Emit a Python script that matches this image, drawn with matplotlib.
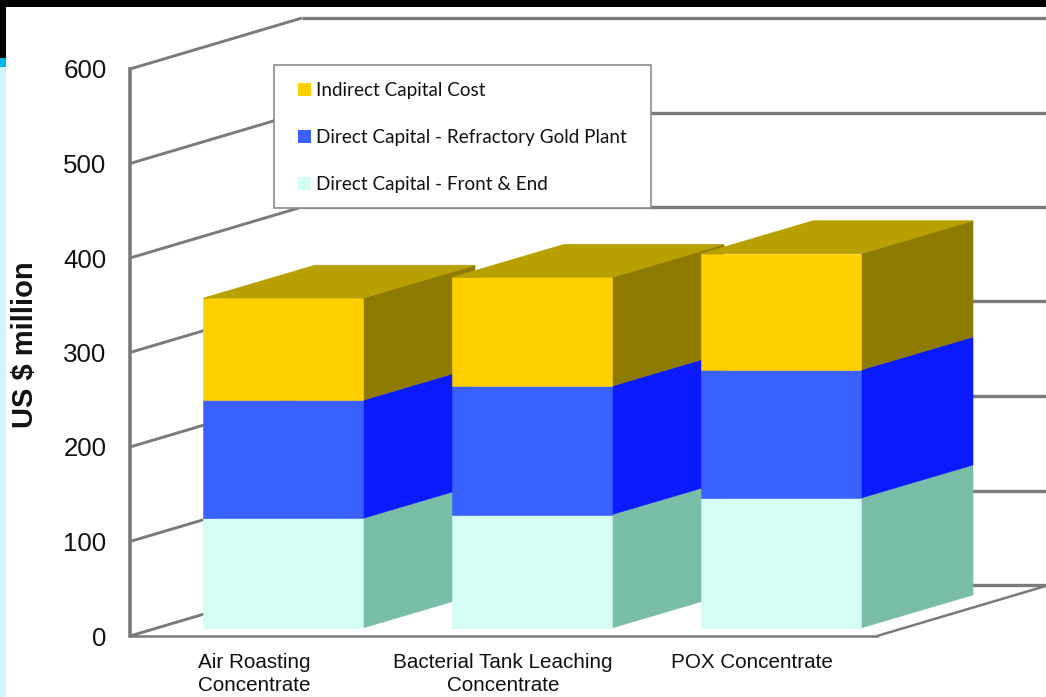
import matplotlib.pyplot as plt
from matplotlib.lines import Line2D
from matplotlib.patches import Patch, Polygon, Rectangle

categories = ['Air Roasting\nConcentrate', 'Bacterial Tank Leaching\nConcentrate', 'POX Concentrate']
front_end = [116, 120, 137.5]
refractory = [125, 136, 135.5]
indirect = [108, 115, 123]
y_ticks = [0, 100, 200, 300, 400, 500, 600]

legend_labels = ['Indirect Capital Cost', 'Direct Capital - Refractory Gold Plant', 'Direct Capital - Front & End']

# front, side, top colour of each tier
teal = ('#D3FDF5', '#7ABDA6', '#A8DDCC')
blue = ('#3A60FF', '#0A1CFF', '#1E3CE0')
gold = ('#FFCF00', '#8F7A00', '#B8A000')

WIDTH, HEIGHT = 1046, 697
GRID = '#7a7a7a'
# fake 3d: how far the back wall is shifted, in data units
WALL_DX = 172 / 249
WALL_DY = 51 / 0.945
# bars sit a little behind the front edge and are less deep than the floor
BAR_DX = 28.5 / 249
BAR_DY = 8.5
BAR_DEPTH_X = 112 / 249
BAR_DEPTH_Y = 33 / 0.945
BAR_WIDTH = 160 / 249


def page_rect(fig, x0, y0, x1, y1, color):
    fig.add_artist(Rectangle((x0 / WIDTH, 1 - y1 / HEIGHT), (x1 - x0) / WIDTH, (y1 - y0) / HEIGHT,
                             transform=fig.transFigure, color=color, lw=0, zorder=10))


def grid_line(axe, xs, ys, width=2.1):
    axe.add_line(Line2D(xs, ys, color=GRID, lw=width, clip_on=False, zorder=1, solid_capstyle='butt'))


def draw_tier(axe, left, bottom, top, colors):
    x0 = left + BAR_DX
    x1 = x0 + BAR_WIDTH
    y0 = bottom + BAR_DY
    y1 = top + BAR_DY
    dx, dy = BAR_DEPTH_X, BAR_DEPTH_Y
    front = [(x0, y0), (x1, y0), (x1, y1), (x0, y1)]
    side = [(x1, y0), (x1 + dx, y0 + dy), (x1 + dx, y1 + dy), (x1, y1)]
    axe.add_patch(Polygon(side, color=colors[1], lw=0.4, clip_on=False, zorder=3))
    axe.add_patch(Polygon(front, color=colors[0], lw=0.4, clip_on=False, zorder=3))
    return [(x0, y1), (x1, y1), (x1 + dx, y1 + dy), (x0 + dx, y1 + dy)]


def main():
    plt.rcParams['font.family'] = 'Liberation Sans'
    fig = plt.figure(figsize=(WIDTH / 100, HEIGHT / 100), dpi=100, facecolor='white')
    axe = fig.add_axes([130 / WIDTH, 1 - 636 / HEIGHT, 747 / WIDTH, 567 / HEIGHT])
    axe.patch.set_visible(False)
    axe.set_xlim(0, 3)
    axe.set_ylim(0, 600)

    for side in ('top', 'right'):
        axe.spines[side].set_visible(False)
    axe.spines['left'].set_color(GRID)
    axe.spines['left'].set_linewidth(2.6)
    axe.spines['bottom'].set_color(GRID)
    axe.spines['bottom'].set_linewidth(1.8)

    axe.set_yticks(y_ticks)
    axe.tick_params(axis='y', length=0, pad=17, labelsize=18.6, labelcolor='#111111')
    axe.set_xticks([i + 0.497 for i in range(len(categories))])
    axe.set_xticklabels(categories, fontsize=14.85, color='#111111', linespacing=1.27)
    axe.tick_params(axis='x', length=0, pad=12.5)
    axe.set_ylabel('US $ million', fontsize=21, fontweight='bold', color='#111111')
    axe.yaxis.set_label_coords(-91 / 747, 0.5145)

    for value in y_ticks:
        grid_line(axe, [0, WALL_DX], [value, value + WALL_DY])
        grid_line(axe, [WALL_DX, 3 + WALL_DX], [value + WALL_DY, value + WALL_DY], 2.4)
    grid_line(axe, [3, 3 + WALL_DX], [0, WALL_DY], 1.8)

    for i in range(len(categories)):
        bottom = 0
        for values, colors in ((front_end, teal), (refractory, blue), (indirect, gold)):
            top = bottom + values[i]
            lid = draw_tier(axe, i + (1 - BAR_WIDTH) / 2, bottom, top, colors)
            bottom = top
        axe.add_patch(Polygon(lid, color=gold[2], lw=0.4, clip_on=False, zorder=3))

    fig.add_artist(Rectangle((274 / WIDTH, 1 - 208 / HEIGHT), 377 / WIDTH, 143 / HEIGHT,
                             transform=fig.transFigure, facecolor='white', edgecolor='#8c8c8c',
                             lw=1.2, zorder=5))
    handles = [Patch(color=gold[0], lw=0), Patch(color=blue[0], lw=0), Patch(color=teal[0], lw=0)]
    legend = fig.legend(handles, legend_labels, loc='upper left', frameon=False,
                        bbox_to_anchor=(298 / WIDTH, 1 - 82 / HEIGHT), borderaxespad=0, borderpad=0,
                        prop={'family': 'Lato', 'size': 13.6}, labelcolor='#111111',
                        handlelength=0.69, handleheight=0.69, handletextpad=0.25, labelspacing=1.6)
    legend.set_zorder(6)

    # slide edge showing around the chart
    page_rect(fig, 0, 0, WIDTH, 7, 'black')
    page_rect(fig, 0, 0, 6, 58, 'black')
    page_rect(fig, 0, 58, 6, 67, '#00B8E8')
    page_rect(fig, 0, 67, 6, HEIGHT, '#CFF3FF')

    fig.savefig('out.png', dpi=100)


if __name__ == '__main__':
    main()
